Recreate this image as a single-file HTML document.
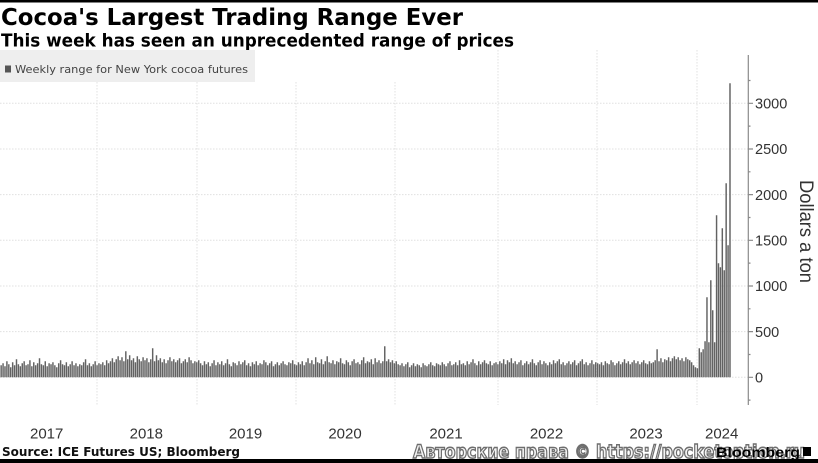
<!DOCTYPE html>
<html><head><meta charset="utf-8"><style>
html,body{margin:0;padding:0;background:#fff;}
svg{display:block;}
</style></head><body>
<svg width="818" height="463" viewBox="0 0 818 463" xmlns="http://www.w3.org/2000/svg">
<rect x="0" y="0" width="818" height="463" fill="#fff"/>
<rect x="0" y="0" width="818" height="2.5" fill="#000"/>
<!-- title -->
<text x="1" y="25" font-family="DejaVu Sans, Liberation Sans, sans-serif" font-weight="bold" font-size="23" fill="#000" textLength="462" lengthAdjust="spacingAndGlyphs">Cocoa's Largest Trading Range Ever</text>
<text x="1" y="46.5" font-family="DejaVu Sans, Liberation Sans, sans-serif" font-weight="bold" font-size="18" fill="#000" textLength="513" lengthAdjust="spacingAndGlyphs">This week has seen an unprecedented range of prices</text>
<!-- legend -->
<rect x="0" y="50" width="255" height="32" fill="#eeeeee"/>
<rect x="5" y="65.5" width="6" height="7" fill="#555"/>
<text x="15" y="73" font-family="DejaVu Sans, Liberation Sans, sans-serif" font-size="11" fill="#444" textLength="233" lengthAdjust="spacingAndGlyphs">Weekly range for New York cocoa futures</text>
<!-- gridlines -->
<g stroke="#e0e0e0" stroke-width="1" stroke-dasharray="1.5,1.5" fill="none">
<path d="M97 82V405M197 82V405M296 82V405M395 82V405M498 50V405M597 50V405M697 50V405"/>
<path d="M0 103.3H748M0 149H748M0 194.6H748M0 240.3H748M0 286H748M0 331.6H748M0 377.3H748"/>
</g>
<!-- bars -->
<g stroke="#626262" stroke-width="1.45" fill="none">
<path d="M-0.768 377.3m1.918-12v12m1.918-14v14m1.918-11v11m1.918-16v16m1.918-13v13m1.918-10v10m1.918-15v15m1.918-12v12m1.918-18v18m1.918-13v13m1.918-11v11m1.918-14v14m1.918-16v16m1.918-12v12m1.918-13v13m1.918-17v17m1.918-11v11m1.918-15v15m1.918-12v12m1.918-14v14m1.918-19v19m1.918-13v13m1.918-12v12m1.918-16v16m1.918-11v11m1.918-14v14m1.918-13v13m1.918-15v15m1.918-12v12m1.918-10v10m1.918-14v14m1.918-17v17m1.918-13v13m1.918-12v12m1.918-15v15m1.918-11v11m1.918-13v13m1.918-16v16m1.918-12v12m1.918-14v14m1.918-11v11m1.918-13v13m1.918-12v12m1.918-15v15m1.918-18v18m1.918-12v12m1.918-14v14m1.918-11v11m1.918-13v13m1.918-16v16m1.918-12v12m1.918-14v14"/>
<path d="M98.968 377.3m1.918-13v13m1.918-15v15m1.918-12v12m1.918-17v17m1.918-14v14m1.918-16v16m1.918-19v19m1.918-15v15m1.918-18v18m1.918-21v21m1.918-17v17m1.918-20v20m1.918-16v16m1.918-26v26m1.918-18v18m1.918-22v22m1.918-17v17m1.918-19v19m1.918-15v15m1.918-21v21m1.918-18v18m1.918-16v16m1.918-20v20m1.918-17v17m1.918-19v19m1.918-15v15m1.918-18v18m1.918-29v29m1.918-16v16m1.918-22v22m1.918-17v17m1.918-19v19m1.918-15v15m1.918-18v18m1.918-14v14m1.918-17v17m1.918-20v20m1.918-16v16m1.918-18v18m1.918-15v15m1.918-17v17m1.918-19v19m1.918-14v14m1.918-16v16m1.918-18v18m1.918-15v15m1.918-20v20m1.918-17v17m1.918-14v14m1.918-16v16m1.918-15v15m1.918-17v17"/>
<path d="M198.704 377.3m1.918-14v14m1.918-12v12m1.918-16v16m1.918-13v13m1.918-15v15m1.918-11v11m1.918-14v14m1.918-17v17m1.918-12v12m1.918-15v15m1.918-13v13m1.918-16v16m1.918-12v12m1.918-14v14m1.918-18v18m1.918-13v13m1.918-11v11m1.918-15v15m1.918-14v14m1.918-12v12m1.918-16v16m1.918-13v13m1.918-15v15m1.918-17v17m1.918-12v12m1.918-14v14m1.918-11v11m1.918-15v15m1.918-13v13m1.918-16v16m1.918-12v12m1.918-14v14m1.918-13v13m1.918-17v17m1.918-15v15m1.918-12v12m1.918-14v14m1.918-16v16m1.918-11v11m1.918-13v13m1.918-15v15m1.918-12v12m1.918-14v14m1.918-16v16m1.918-13v13m1.918-12v12m1.918-15v15m1.918-14v14m1.918-17v17m1.918-13v13m1.918-12v12m1.918-15v15"/>
<path d="M298.44 377.3m1.918-13v13m1.918-16v16m1.918-12v12m1.918-15v15m1.918-19v19m1.918-14v14m1.918-17v17m1.918-13v13m1.918-20v20m1.918-15v15m1.918-14v14m1.918-18v18m1.918-13v13m1.918-16v16m1.918-21v21m1.918-15v15m1.918-14v14m1.918-17v17m1.918-13v13m1.918-16v16m1.918-15v15m1.918-19v19m1.918-14v14m1.918-13v13m1.918-17v17m1.918-15v15m1.918-12v12m1.918-16v16m1.918-18v18m1.918-14v14m1.918-15v15m1.918-13v13m1.918-17v17m1.918-20v20m1.918-14v14m1.918-16v16m1.918-15v15m1.918-18v18m1.918-13v13m1.918-19v19m1.918-15v15m1.918-17v17m1.918-14v14m1.918-16v16m1.918-31v31m1.918-16v16m1.918-18v18m1.918-15v15m1.918-17v17m1.918-14v14m1.918-16v16m1.918-13v13"/>
<path d="M398.176 377.3m1.918-12v12m1.918-14v14m1.918-11v11m1.918-13v13m1.918-15v15m1.918-10v10m1.918-12v12m1.918-14v14m1.918-11v11m1.918-13v13m1.918-12v12m1.918-10v10m1.918-14v14m1.918-12v12m1.918-11v11m1.918-13v13m1.918-15v15m1.918-12v12m1.918-11v11m1.918-14v14m1.918-13v13m1.918-12v12m1.918-15v15m1.918-13v13m1.918-11v11m1.918-14v14m1.918-16v16m1.918-12v12m1.918-13v13m1.918-15v15m1.918-12v12m1.918-17v17m1.918-13v13m1.918-14v14m1.918-12v12m1.918-16v16m1.918-13v13m1.918-15v15m1.918-18v18m1.918-14v14m1.918-12v12m1.918-16v16m1.918-13v13m1.918-15v15m1.918-17v17m1.918-14v14m1.918-13v13m1.918-16v16m1.918-12v12m1.918-14v14m1.918-15v15m1.918-13v13"/>
<path d="M497.912 377.3m1.918-16v16m1.918-14v14m1.918-18v18m1.918-13v13m1.918-17v17m1.918-15v15m1.918-19v19m1.918-14v14m1.918-16v16m1.918-13v13m1.918-15v15m1.918-17v17m1.918-12v12m1.918-14v14m1.918-16v16m1.918-13v13m1.918-15v15m1.918-18v18m1.918-14v14m1.918-12v12m1.918-15v15m1.918-17v17m1.918-13v13m1.918-16v16m1.918-14v14m1.918-12v12m1.918-15v15m1.918-13v13m1.918-17v17m1.918-14v14m1.918-16v16m1.918-18v18m1.918-13v13m1.918-15v15m1.918-12v12m1.918-14v14m1.918-16v16m1.918-13v13m1.918-15v15m1.918-17v17m1.918-12v12m1.918-14v14m1.918-16v16m1.918-18v18m1.918-13v13m1.918-15v15m1.918-12v12m1.918-14v14m1.918-17v17m1.918-13v13m1.918-15v15m1.918-14v14"/>
<path d="M597.648 377.3m1.918-13v13m1.918-15v15m1.918-12v12m1.918-16v16m1.918-14v14m1.918-13v13m1.918-17v17m1.918-15v15m1.918-12v12m1.918-14v14m1.918-16v16m1.918-13v13m1.918-15v15m1.918-18v18m1.918-14v14m1.918-16v16m1.918-13v13m1.918-15v15m1.918-17v17m1.918-14v14m1.918-16v16m1.918-13v13m1.918-15v15m1.918-17v17m1.918-14v14m1.918-13v13m1.918-16v16m1.918-14v14m1.918-15v15m1.918-17v17m1.918-28v28m1.918-16v16m1.918-19v19m1.918-15v15m1.918-18v18m1.918-17v17m1.918-20v20m1.918-16v16m1.918-19v19m1.918-21v21m1.918-18v18m1.918-20v20m1.918-17v17m1.918-19v19m1.918-16v16m1.918-20v20m1.918-18v18m1.918-17v17m1.918-15v15m1.918-12v12m1.918-10v10m1.918-9v9"/>
<path d="M697.384 377.3m1.918-29v29m1.918-25v25m1.918-28v28m1.918-36v36m1.918-80v80m1.918-35v35m1.918-97v97m1.918-67v67m1.918-35v35m1.918-162v162m1.918-114v114m1.918-110v110m1.918-149v149m1.918-107v107m1.918-194v194m1.918-132v132m1.918-294v294"/>
</g>
<!-- axis -->
<g stroke="#8a8a8a" stroke-width="1.2" fill="none">
<path d="M748.3 55V405"/>
<path d="M748 377.3H753M748 331.6H753M748 286H753M748 240.3H753M748 194.6H753M748 149H753M748 103.3H753"/>
<path d="M748 400.1H750.5M748 354.5H750.5M748 308.8H750.5M748 263.1H750.5M748 217.5H750.5M748 171.8H750.5M748 126.1H750.5M748 80.5H750.5"/>
</g>
<g font-family="Liberation Sans, sans-serif" font-size="14.5" fill="#333">
<text x="755" y="382.5">0</text>
<text x="755" y="336.8">500</text>
<text x="755" y="291.2">1000</text>
<text x="755" y="245.5">1500</text>
<text x="755" y="199.8">2000</text>
<text x="755" y="154.2">2500</text>
<text x="755" y="108.5">3000</text>
</g>
<text transform="translate(800,231.5) rotate(90)" text-anchor="middle" font-family="Liberation Sans, sans-serif" font-size="19" fill="#333" textLength="103" lengthAdjust="spacingAndGlyphs">Dollars a ton</text>
<!-- x labels -->
<g font-family="Liberation Sans, sans-serif" font-size="15" fill="#333" text-anchor="middle">
<text x="46.7" y="438.5">2017</text>
<text x="146.3" y="438.5">2018</text>
<text x="245.5" y="438.5">2019</text>
<text x="345" y="438.5">2020</text>
<text x="446" y="438.5">2021</text>
<text x="546.5" y="438.5">2022</text>
<text x="646" y="438.5">2023</text>
<text x="721.7" y="438.5">2024</text>
</g>
<!-- source -->
<text x="2" y="456" font-family="DejaVu Sans, Liberation Sans, sans-serif" font-weight="bold" font-size="12.5" fill="#111" textLength="238" lengthAdjust="spacingAndGlyphs">Source: ICE Futures US; Bloomberg</text>
<!-- watermark -->
<text x="413" y="458" font-family="DejaVu Sans, Liberation Sans, sans-serif" font-weight="bold" font-size="19" fill="#f4f4f4" stroke="#6e6e6e" stroke-width="1.4" textLength="392" lengthAdjust="spacingAndGlyphs">Авторские права © https://pocketoption.ru</text>
<text x="716" y="457" font-family="Liberation Sans, sans-serif" font-weight="bold" font-size="14" fill="#000" textLength="84" lengthAdjust="spacingAndGlyphs">Bloomberg</text>
<rect x="803" y="447" width="8" height="9" fill="#000"/>
<rect x="0" y="459" width="818" height="4" fill="#000"/>
</svg>
</body></html>
